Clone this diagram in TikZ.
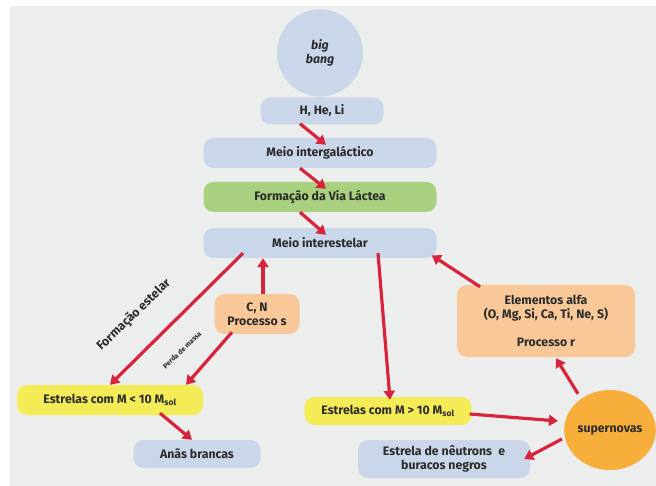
\documentclass[tikz,border=0pt]{standalone}
\usepackage{fontspec}
\setmainfont{Fira Sans}
\usetikzlibrary{arrows.meta,shapes.geometric}

\definecolor{fundo}{HTML}{ECEDED}
\definecolor{azul}{HTML}{CAD6E9}
\definecolor{verde}{HTML}{A8D07F}
\definecolor{pessego}{HTML}{F9C899}
\definecolor{amarelo}{HTML}{F4EC57}
\definecolor{laranja}{HTML}{F8AE3A}
\definecolor{seta}{HTML}{D7243C}
\definecolor{texto}{HTML}{2B2B2B}

\begin{document}
\begin{tikzpicture}[x=1pt,y=-1pt]
%%%%%%%%%%%%%%%%%%%%%%%%%%%%%%%%%%%%%%%%%%%%%%%%%%%%%%%%
% STYLE
\tikzstyle{caixa}=[rectangle,rounded corners=10pt,minimum height=30pt,inner sep=2pt,align=center,text=texto,font=\bfseries\fontsize{12.3}{14}\selectfont]
\tikzstyle{bola}=[ellipse,inner sep=0pt,align=center,text=texto,font=\bfseries\fontsize{12.3}{14}\selectfont]
\tikzstyle{txt}=[text=texto,font=\bfseries\fontsize{12.3}{14}\selectfont]

\tikzset{link/.style={-{Triangle[width=11pt,length=9pt]},line width=3.2pt,draw=seta}}

%%%%%%%%%%%%%%%%%%%%%%%%%%%%%%%%%%%%%%%%%%%%%%%%%%%%%%%%
% BACKGROUND
\useasboundingbox (0,0) rectangle (656,486);
\fill[fundo] (10,6) rectangle (656,486);

%%%%%%%%%%%%%%%%%%%%%%%%%%%%%%%%%%%%%%%%%%%%%%%%%%%%%%%%
% NODES
\node[bola,fill=azul,minimum width=86pt,minimum height=87pt] (BB) at (320, 53) {\itshape big\\\itshape bang};
\node[caixa,fill=azul,minimum width=123pt,minimum height=27pt] (HHE) at (322, 111) {H, He, Li};
\node[caixa,fill=azul,minimum width=233pt] (MIG) at (320, 153) {Meio intergaláctico};
\node[caixa,fill=verde,minimum width=233pt] (VIA) at (320, 197) {Formação da Via Láctea};
\node[caixa,fill=azul,minimum width=233pt] (MIS) at (320, 243) {Meio interestelar};

\node[caixa,fill=pessego,minimum width=85pt,minimum height=40pt] (CN) at (257, 314) {C, N\\Processo s};
\node[caixa,fill=pessego,minimum width=178pt,minimum height=72pt] (ALFA) at (546, 321) {Elementos alfa\\(O, Mg, Si, Ca, Ti, Ne, S)\\[14pt]Processo r};

\node[caixa,fill=amarelo,minimum width=186pt] (ELOW) at (110, 400) {Estrelas com M < 10 M\textsubscript{sol}};
\node[caixa,fill=azul,minimum width=127pt,minimum height=28pt] (ANAS) at (197, 454) {Anãs brancas};

\node[caixa,fill=amarelo,minimum width=167pt,minimum height=28pt] (EHIGH) at (388, 411) {Estrelas com M > 10 M\textsubscript{sol}};
\node[caixa,fill=azul,minimum width=172pt,minimum height=38pt] (NEU) at (444, 459) {Estrela de nêutrons\enspace e\\buracos negros};
\node[bola,fill=laranja,minimum width=88pt,minimum height=80pt] (SN) at (610, 430) {supernovas};

\node[txt,rotate=44] (FE) at (134, 315) {Formação estelar};
\node[txt,rotate=44,font=\bfseries\fontsize{7}{8}\selectfont] (PM) at (182, 350) {Perda de massa};

%%%%%%%%%%%%%%%%%%%%%%%%%%%%%%%%%%%%%%%%%%%%%%%%%%%%%%%%
% LINKS
\draw[link] ([xshift=-22pt,yshift=1pt]HHE.south) -- ([xshift=6pt,yshift=-7pt]MIG.north);
\draw[link] ([xshift=-20pt]MIG.south) -- ([xshift=6pt,yshift=-7pt]VIA.north);
\draw[link] ([xshift=-20pt]VIA.south) -- ([xshift=6pt,yshift=-7pt]MIS.north);

\draw[link] ([xshift=-77pt,yshift=5pt]MIS.south) -- (ELOW.north);
\draw[link] ([xshift=6pt]CN.north) -- ([xshift=-57pt]MIS.south);
\draw[link] ([xshift=-25pt,yshift=2pt]CN.south) -- ([xshift=76pt]ELOW.north);
\draw[link] ([xshift=50pt,yshift=2pt]ELOW.south) -- ([xshift=-5pt]ANAS.north);

\draw[link] ([xshift=58pt,yshift=5pt]MIS.south) -- ([xshift=2pt,yshift=-3pt]EHIGH.north);
\draw[link] ([xshift=-2pt,yshift=-3pt]EHIGH.east) -- ([xshift=-6pt,yshift=9pt]SN.west);
\draw[link] ([xshift=-2pt,yshift=-9pt]SN.west) -- ([xshift=-6pt]NEU.east);
\draw[link] ([xshift=-32pt,yshift=-4pt]SN.north) -- ([xshift=10pt,yshift=-1pt]ALFA.south);
\draw[link] ([xshift=-66pt,yshift=-2pt]ALFA.north) -- ([xshift=-5pt,yshift=3pt]MIS.south east);

\end{tikzpicture}
\end{document}
